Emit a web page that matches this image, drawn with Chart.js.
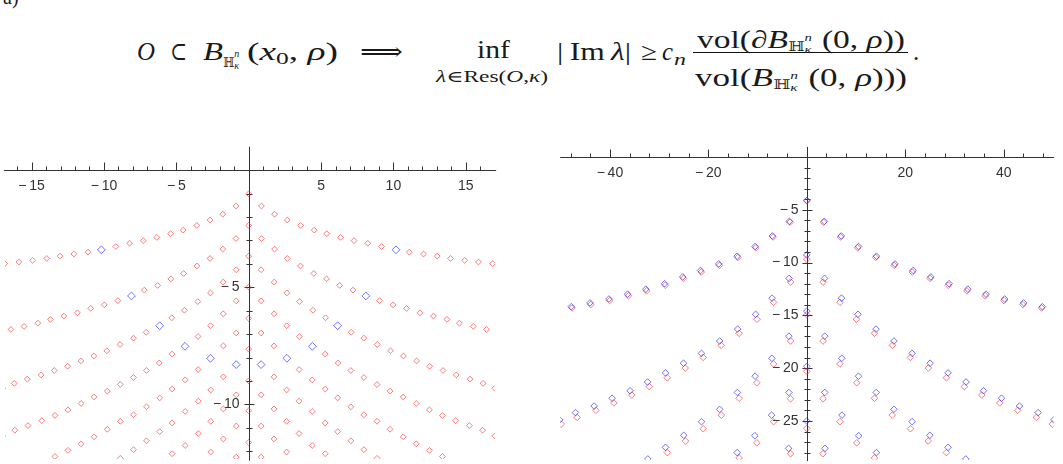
<!DOCTYPE html>
<html><head><meta charset="utf-8">
<script src="https://cdn.jsdelivr.net/npm/chart.js@4/dist/chart.umd.min.js"></script>
<style>
html,body{margin:0;padding:0;background:#fff;width:1063px;height:464px;overflow:hidden;position:relative}
canvas{position:absolute}
.f{position:absolute;white-space:nowrap;font-family:'Liberation Serif','DejaVu Serif',serif;color:#1a1a1a;line-height:1;transform-origin:0 0}
.f i{font-style:italic}
.stk{display:inline-block;position:relative;width:13px;height:25px;vertical-align:baseline}
.stk span{position:absolute;left:0;font-size:11px;line-height:1;font-style:italic}
</style></head><body>
<canvas id="cl" width="500" height="334" style="left:0;top:130px"></canvas>
<canvas id="cr" width="502" height="344" style="left:556px;top:120px"></canvas>
<script>
// ---------- LEFT PLOT DATA (right half; the plot is symmetric in Re λ) ----------
const leftRayX = [
  [0,0.88,1.79,2.67,3.58,4.53,5.4,6.35,7.28,8.23,9.18,11.1,12.08,13.03,13.95,14.93,15.88,16.86],
  [0,0.88,1.79,2.67,3.58,4.5,5.38,6.29,7.21,9.04,9.98,10.91,11.84,12.77,13.7,14.57,15.52,16.43],
  [0,0.86,1.76,2.64,3.52,4.44,5.31,7.08,7.96,8.89,9.8,10.7,11.6,12.51,13.43,14.34,15.3,16.2,17.01],
  [0,0.86,1.76,2.63,3.5,5.29,6.18,7.06,7.96,8.87,9.77,10.68,11.58,12.49,13.39,14.3,15.25,16.16,17.01],
  [0,0.86,1.75,3.49,4.39,5.29,6.15,7.06,7.96,8.87,9.77,10.68,11.58,12.49,13.39],
  [0,1.75,2.62,3.48,4.39,5.29,6.15,7.06,7.96,8.87],
  [0,0.86,1.75,2.62,3.48,4.39,5.29,6.15],
  [0,0.86,1.75,2.62],
  [0,0.86]
];
const leftRayY = [
  [-1.01,-1.53,-1.88,-2.13,-2.36,-2.56,-2.71,-2.87,-3.01,-3.12,-3.26,-3.5,-3.58,-3.67,-3.77,-3.85,-3.92,-3.99],
  [-2.36,-2.92,-3.37,-3.77,-4.09,-4.41,-4.64,-4.92,-5.12,-5.57,-5.75,-5.9,-6.09,-6.23,-6.37,-6.53,-6.67,-6.8],
  [-3.67,-4.25,-4.78,-5.24,-5.61,-5.98,-6.3,-6.92,-7.17,-7.44,-7.71,-7.93,-8.14,-8.37,-8.55,-8.74,-8.92,-9.1,-9.31],
  [-4.99,-5.58,-6.13,-6.64,-7.1,-7.85,-8.23,-8.55,-8.85,-9.15,-9.43,-9.68,-9.96,-10.23,-10.47,-10.69,-10.9,-11.1,-11.34],
  [-6.33,-6.95,-7.5,-8.51,-8.95,-9.34,-9.72,-10.1,-10.44,-10.72,-11.06,-11.38,-11.68,-11.96,-12.22],
  [-7.64,-8.82,-9.38,-9.86,-10.3,-10.79,-11.16,-11.55,-11.93,-12.3],
  [-8.99,-9.59,-10.19,-10.72,-11.24,-11.75,-12.1,-12.5],
  [-10.27,-10.92,-11.47,-12.03],
  [-11.62,-12.25]
];
const leftBlueX = [10.18, 8.1, 6.15, 4.4, 2.64, 0.86];
const leftBlueY = [-3.4, -5.37, -6.64, -7.52, -8.03, -8.3];

// ---------- RIGHT PLOT DATA (right half) ----------
const rightRedX = [
  [0,3.4,6.85,10.35,14.0,17.75,21.45,25.05,28.75,32.55,36.25,40.05,43.9,47.7],
  [0,3.3,6.75,10.1,13.75,17.4,21.05,24.7,28.35,32.0,35.55,39.2,42.85,46.65,49.9],
  [0,3.3,6.75,10.15,13.75,17.35,21.05,24.65,28.35,31.95],
  [0,3.3,6.75,10.15,13.75],
  [0,3.3,6.7]
];
const rightRedY = [
  [-4.16,-6.18,-7.58,-8.6,-9.52,-10.27,-10.9,-11.5,-12.15,-12.68,-13.15,-13.6,-13.98,-14.3],
  [-9.68,-11.85,-13.77,-15.37,-16.7,-17.84,-18.98,-19.99,-20.91,-21.75,-22.55,-23.29,-23.99,-24.67,-25.3],
  [-14.95,-17.43,-19.6,-21.38,-22.85,-24.45,-25.74,-26.9,-28.0,-29.1],
  [-20.3,-22.9,-25.07,-27.07,-28.5],
  [-25.7,-28.1,-30.2]
];
const rightBlueX = [
  [0,3.55,7.0,10.5,14.15,17.9,21.6,25.2,28.9,32.7,36.4,40.2,44.05,47.85],
  [0,3.6,7.05,10.4,14.05,17.7,21.4,25.05,28.7,32.35,35.9,39.55,43.2,47.0,50.2],
  [0,3.65,7.1,10.5,14.1,17.7,21.4,25.0,28.7,32.3],
  [0,3.65,7.15,10.55,14.15],
  [0,3.7,7.2]
];
const rightBlueY = [
  [-4.1,-6.1,-7.48,-8.48,-9.4,-10.13,-10.75,-11.36,-12.0,-12.52,-12.99,-13.45,-13.82,-14.18],
  [-9.28,-11.5,-13.37,-14.9,-16.3,-17.43,-18.6,-19.53,-20.45,-21.31,-22.14,-22.85,-23.59,-24.21,-24.9],
  [-14.6,-16.97,-19.07,-20.76,-22.3,-23.9,-25.07,-26.36,-27.5,-28.6],
  [-19.83,-22.3,-24.45,-26.4,-28.0],
  [-25.0,-27.6,-29.5]
];

// ---------- TICKS ----------
const leftXLabels = [-15,-10,-5,5,10,15];
const leftYLabels = [-5,-10];
const rightXLabels = [-40,-20,20,40];
const rightYLabels = [-5,-10,-15,-20,-25];

// ---------- helpers ----------
function mirrorPts(xs, ys){
  const pts=[];
  xs.forEach((x,i)=>{ pts.push({x:x,y:ys[i]}); if(x!==0) pts.push({x:-x,y:ys[i]}); });
  return pts;
}
function allRays(X, Y){ let p=[]; X.forEach((xs,k)=>{ p=p.concat(mirrorPts(xs,Y[k])); }); return p; }
function range(a,b,s){ const r=[]; for(let v=a; v<=b+1e-9; v+=s) r.push(Math.round(v*1000)/1000); return r; }
function fmt(v){ return v<0 ? '\u2212\u2009'+Math.abs(v) : String(v); }

function mmaAxes(c){
  return {
    id:'mmaAxes',
    beforeDatasetsDraw(chart){
      const ctx=chart.ctx, xs=chart.scales.x, ys=chart.scales.y;
      const X=v=>xs.getPixelForValue(v), Y=v=>ys.getPixelForValue(v);
      ctx.save();
      ctx.strokeStyle='#333'; ctx.lineWidth=1;
      const y0=Math.round(Y(0))+0.5, x0=Math.round(X(0))+0.5;
      ctx.beginPath();
      ctx.moveTo(X(c.xFrom),y0); ctx.lineTo(X(c.xTo),y0);
      ctx.moveTo(x0,Y(c.yTop)); ctx.lineTo(x0,Y(c.yBottom));
      c.xMinor.forEach(v=>{ const p=Math.round(X(v))+0.5; ctx.moveTo(p,y0); ctx.lineTo(p,y0-c.xMinLen); });
      c.xMajor.forEach(v=>{ const p=Math.round(X(v))+0.5; ctx.moveTo(p,y0); ctx.lineTo(p,y0-c.xMajLen); });
      c.yMinor.forEach(v=>{ const p=Math.round(Y(v))+0.5; ctx.moveTo(x0-c.yMinLen,p); ctx.lineTo(x0+c.yMinLen,p); });
      c.yMajor.forEach(v=>{ const p=Math.round(Y(v))+0.5; ctx.moveTo(x0-c.yMajLen,p); ctx.lineTo(x0+c.yMajLen,p); });
      ctx.stroke();
      ctx.fillStyle='#333'; ctx.font=c.font;
      ctx.textAlign='center'; ctx.textBaseline='middle';
      c.xLabels.forEach(v=>ctx.fillText(fmt(v), X(v), y0+c.xLabOff));
      ctx.textAlign='right';
      c.yLabels.forEach(v=>ctx.fillText(fmt(v), x0-c.yLabOff, Y(v)));
      ctx.restore();
    }
  };
}
function ds(data, color, r){
  return {data:data, showLine:false, pointStyle:'rectRot', pointRadius:r, pointHoverRadius:r,
    borderColor:color, backgroundColor:'rgba(0,0,0,0)', pointBorderWidth:1, borderWidth:1};
}
function makeChart(id, datasets, xmin, xmax, ymin, ymax, axesCfg){
  return new Chart(document.getElementById(id), {
    type:'scatter',
    data:{datasets:datasets},
    options:{
      responsive:false, animation:false, events:[], devicePixelRatio:1,
      layout:{padding:0},
      plugins:{legend:{display:false}, tooltip:{enabled:false}},
      scales:{ x:{type:'linear',min:xmin,max:xmax,display:false},
               y:{type:'linear',min:ymin,max:ymax,display:false} }
    },
    plugins:[mmaAxes(axesCfg)]
  });
}

const RED='rgba(240,40,40,0.6)', BLUE='rgba(40,40,240,0.65)';
const font14='14px "Liberation Sans", Arial, sans-serif';

makeChart('cl', [
  ds(mirrorPts(leftBlueX,leftBlueY), BLUE, 3.9),
  ds(allRays(leftRayX,leftRayY), RED, 2.9)
], -248.65/14.76, (500-248.65)/14.76, (166.3-464)/24.14, (166.3-130)/24.14, {
  xFrom:-16.9, xTo:17.1, yTop:1.0, yBottom:-12.4,
  xMinor:range(-16,16,1), xMajor:[-15,-10,-5,5,10,15], xMinLen:4, xMajLen:8,
  yMinor:range(-12,-1,1), yMajor:[-5,-10], yMinLen:3, yMajLen:5,
  xLabels:leftXLabels, yLabels:leftYLabels, xLabOff:16, yLabOff:10, font:font14
});

makeChart('cr', [
  ds(allRays(rightBlueX,rightBlueY), BLUE, 3.3),
  ds(allRays(rightRedX,rightRedY), RED, 3.3)
], (556-806.8)/5.008, (1058-806.8)/5.008, (153.5-464)/10.83, (153.5-120)/10.83, {
  xFrom:-50.1, xTo:50.2, yTop:0.95, yBottom:-28.8,
  xMinor:range(-48,48,4), xMajor:[-40,-20,20,40], xMinLen:4, xMajLen:8,
  yMinor:range(-28,-1,1), yMajor:[-5,-10,-15,-20,-25], yMinLen:3, yMajLen:5,
  xLabels:rightXLabels, yLabels:rightYLabels, xLabOff:16, yLabOff:9, font:font14
});

// ---------- FORMULA ----------
const H = '<span style="font-size:13px;position:relative;top:3px">\u210D</span>'+
          '<span class="stk"><span style="top:8.8px">n</span><span style="top:20.8px">\u03BA</span></span>';
function piece(html, x0, x1, base, size){
  const d=document.createElement('div'); d.className='f';
  d.style.fontSize=size+'px'; d.innerHTML=html;
  d.style.left=x0+'px'; d.style.top=(base-0.84*size)+'px';
  document.body.appendChild(d);
  if(x1){ const w=d.getBoundingClientRect().width; if(w>0) d.style.transform='scaleX('+((x1-x0)/w)+')'; }
  return d;
}
piece('a)', 3, null, 4, 20);
piece('<i>O</i>', 137, 155, 60, 25);
piece('\u2282', 170, 187, 60, 25);
piece('<i>B</i>', 203, 223, 60, 25);
piece(H, 223, 246, 60, 25);
piece('(<i>x</i><span style="font-size:17px;position:relative;top:4px">0</span>, <i>\u03C1</i>)', 247, 338, 60, 25);
piece('\u27F9', 360, 403, 60, 25);
piece('inf', 477, 510, 58, 25);
piece('<i>\u03BB</i>\u2208Res(<i>O</i>,<i>\u03BA</i>)', 436, 548, 82, 16);
piece('|\u2009Im\u2009<i>\u03BB</i>|', 557, 631, 60, 25);
piece('\u2265', 641, 657, 60, 25);
piece('<i>c</i>', 662, 673, 60, 25);
piece('<i>n</i>', 674, 686, 65, 16);
const bar=document.createElement('div');
bar.style.cssText='position:absolute;left:693px;top:52px;width:215px;height:1px;background:#111';
document.body.appendChild(bar);
piece('vol(\u2202<i>B</i>'+H+'(0, <i>\u03C1</i>))', 697, 905, 44, 25);
piece('vol(<i>B</i>'+H+'(0, <i>\u03C1</i>)))', 695, 907, 82, 25);
piece('.', 913, null, 60, 25);
</script>
</body></html>
